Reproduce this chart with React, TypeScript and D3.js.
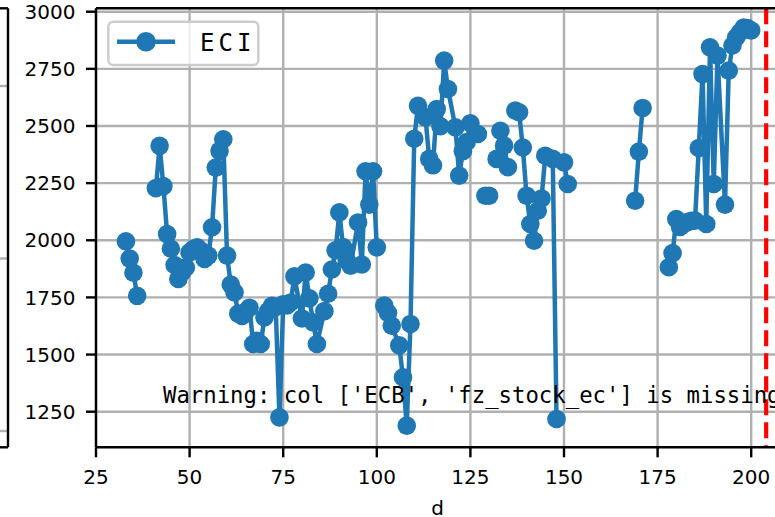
import React from 'react';
import * as d3 from 'd3';

// ---- data ----
const days: number[] = [
  33, 34, 35, 36, 37,
  41, 42, 43, 44, 45, 46, 47, 48, 49, 50, 51, 52, 53, 54, 55, 56, 57, 58, 59, 60,
  61, 62, 63, 64, 65, 66, 67, 68, 69, 70, 71, 72, 73, 74, 75, 76, 77, 78, 80,
  81, 82, 83, 84, 86, 87, 88, 89, 90, 91, 92, 93, 95, 96, 97, 98, 99, 100, 101,
  102, 103, 104, 106, 107, 108, 109, 110, 111, 113, 114, 115, 116, 117, 118, 119,
  121, 122, 123, 124, 125, 127, 128, 129, 130, 131, 132, 133, 134, 135, 136,
  137, 138, 139, 140, 141, 142, 143, 144, 145, 147, 148, 149, 150, 151, 152,
  169, 170, 171, 172,
  178, 179, 180, 181, 182, 183, 184, 185, 186, 187, 188, 189, 190, 191, 193,
  194, 195, 196, 197, 198, 199, 200,
];
const eci: (number | null)[] = [
  1995, 1920, 1858, 1757, null,
  2228, 2413, 2237, 2027, 1963, 1892, 1831, 1860, 1881, 1947, 1962, 1969, 1955, 1918, 1933, 2057, 2318, 2391, 2442, 1933,
  1806, 1772, 1679, 1669, 1688, 1705, 1546, 1560, 1546, 1662, 1690, 1713, 1708, 1225, 1720, 1715, 1728, 1842, 1658,
  1859, 1746, 1641, 1546, 1690, 1766, 1872, 1956, 2122, 1970, 1911, 1889, 2078, 1894, 2302, 2156, 2302, 1969, null,
  1714, 1682, 1626, 1540, 1400, 1189, 1634, 2444, 2588, 2538, 2356, 2328, 2574, 2499, 2786, 2662,
  2494, 2283, 2390, 2430, 2512, 2465, null, 2195, 2195, null, 2356, 2479, 2414, 2320, null,
  2567, 2560, 2406, 2195, 2071, 1998, 2129, 2183, 2370, 2356, 1218, null, 2341, 2246, null,
  2173, 2388, 2579, null,
  1882, 1944, 2093, 2058, 2072, 2080, 2085, 2086, 2404, 2727, 2071, 2844, 2246, 2808, 2156,
  2742, 2852, 2888, 2910, 2931, 2928, 2918,
];
const xTicks: number[] = [25, 50, 75, 100, 125, 150, 175, 200];
const yTicks: number[] = [1250, 1500, 1750, 2000, 2250, 2500, 2750, 3000];
const seriesName = 'ECI';
const xLabel = 'd';
const warningText = "Warning: col ['ECB', 'fz_stock_ec'] is missing";
const cutoffDay = 204;

// ---- layout ----
const W = 775;
const H = 517;
const LEFT = 96;
const RIGHT = 780;
const TOP = 8.3;
const BOTTOM = 447.3;
const BLUE = '#1f77b4';
const GRID = '#b0b0b0';

export default function App() {
  const x = d3.scaleLinear().domain([25, 200]).range([LEFT, 751.2]);
  const y = d3.scaleLinear().domain([1250, 3000]).range([411.7, 11.7]);
  const pts = days.map((d, i) => ({ d, v: eci[i] }));
  const line = d3
    .line<{ d: number; v: number | null }>()
    .defined((p) => p.v != null)
    .x((p) => x(p.d))
    .y((p) => y(p.v as number));
  const pathD = line(pts) || '';
  const tickFont = 'DejaVu Sans, sans-serif';
  const monoFont = 'DejaVu Sans Mono, monospace';

  // neighbouring (cropped) panel on the far left
  const leftPanelGrid = d3.scaleLinear().domain([0, 2]).range([431, 86]);

  return (
    <svg
      width={W}
      height={H}
      style={{ position: 'absolute', left: 0, top: 0, background: '#fff' }}
    >
      <rect x={0} y={0} width={W} height={H} fill="#fff" />

      {/* cropped neighbouring panel */}
      {[0, 1, 2].map((t) => (
        <line key={'lg' + t} x1={0} x2={8} y1={leftPanelGrid(t)} y2={leftPanelGrid(t)} stroke={GRID} strokeWidth={2.4} />
      ))}
      <line x1={8} x2={8} y1={TOP} y2={BOTTOM} stroke="#000" strokeWidth={2.4} />
      <line x1={0} x2={8} y1={BOTTOM} y2={BOTTOM} stroke="#000" strokeWidth={2.4} />
      <line x1={0} x2={8} y1={TOP} y2={TOP} stroke="#000" strokeWidth={2.4} />

      {/* grid */}
      {xTicks.map((t) => (
        <line key={'gx' + t} x1={x(t)} x2={x(t)} y1={TOP} y2={BOTTOM} stroke={GRID} strokeWidth={2.4} />
      ))}
      {yTicks.map((t) => (
        <line key={'gy' + t} x1={LEFT} x2={RIGHT} y1={y(t)} y2={y(t)} stroke={GRID} strokeWidth={2.4} />
      ))}

      {/* series */}
      <path d={pathD} fill="none" stroke={BLUE} strokeWidth={4.5} strokeLinejoin="round" strokeLinecap="butt" />
      {pts
        .filter((p) => p.v != null)
        .map((p, i) => (
          <circle key={'m' + i} cx={x(p.d)} cy={y(p.v as number)} r={9.3} fill={BLUE} />
        ))}

      {/* cutoff line */}
      <line
        x1={x(cutoffDay)}
        x2={x(cutoffDay)}
        y1={TOP}
        y2={BOTTOM}
        stroke="#ff0000"
        strokeWidth={4.2}
        strokeDasharray="16 7"
      />

      {/* spines */}
      <line x1={LEFT} x2={LEFT} y1={TOP} y2={BOTTOM} stroke="#000" strokeWidth={2.4} />
      <line x1={LEFT} x2={RIGHT} y1={BOTTOM} y2={BOTTOM} stroke="#000" strokeWidth={2.4} />
      <line x1={LEFT} x2={RIGHT} y1={TOP} y2={TOP} stroke="#000" strokeWidth={2.4} />

      {/* x ticks */}
      {xTicks.map((t) => (
        <g key={'tx' + t}>
          <line x1={x(t)} x2={x(t)} y1={BOTTOM} y2={BOTTOM + 10} stroke="#000" strokeWidth={2.4} />
          <text x={x(t)} y={483.5} textAnchor="middle" fontFamily={tickFont} fontSize={20} fill="#000">
            {t}
          </text>
        </g>
      ))}
      {/* y ticks */}
      {yTicks.map((t) => (
        <g key={'ty' + t}>
          <line x1={LEFT - 10} x2={LEFT} y1={y(t)} y2={y(t)} stroke="#000" strokeWidth={2.4} />
          <text x={75.5} y={y(t)} dy="0.36em" textAnchor="end" fontFamily={tickFont} fontSize={20} fill="#000">
            {t}
          </text>
        </g>
      ))}

      {/* axis label */}
      <text x={437.5} y={515} textAnchor="middle" fontFamily={tickFont} fontSize={20} fill="#000">
        {xLabel}
      </text>

      {/* warning text */}
      <text x={163} y={403} fontFamily={monoFont} fontSize={22.3} fill="#000">
        {warningText}
      </text>

      {/* legend */}
      <rect x={108.3} y={21.7} width={150} height={43.3} rx={5} ry={5} fill="#fff" fillOpacity={0.8} stroke="#cccccc" strokeWidth={2.4} />
      <line x1={117} x2={175} y1={41.7} y2={41.7} stroke={BLUE} strokeWidth={4.5} />
      <circle cx={146} cy={41.7} r={9.8} fill={BLUE} />
      <text x={200} y={50.7} fontFamily={monoFont} fontSize={24} letterSpacing={4} fill="#000">
        {seriesName}
      </text>
    </svg>
  );
}
